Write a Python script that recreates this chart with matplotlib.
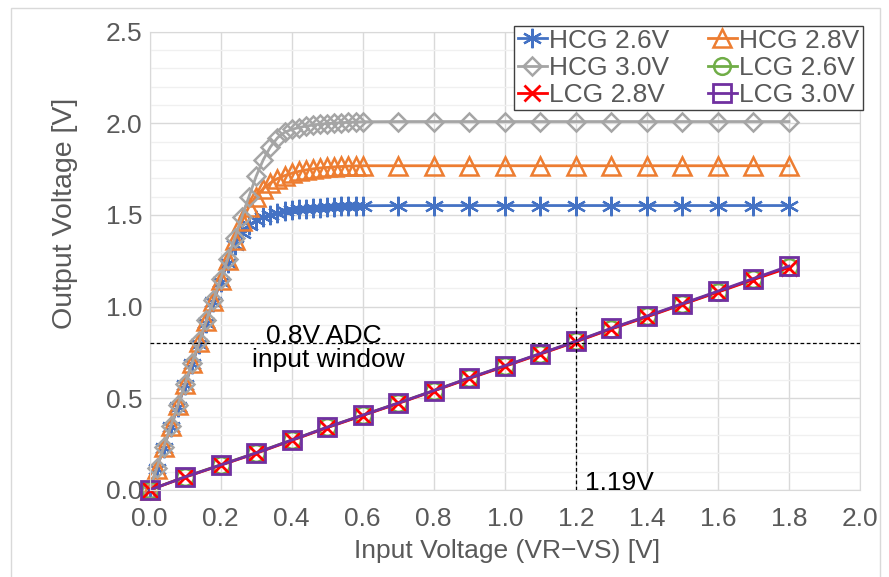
import matplotlib

matplotlib.use("Agg")
import matplotlib.pyplot as plt
from matplotlib.patches import Rectangle
from matplotlib.ticker import FormatStrFormatter, MultipleLocator

# input voltage sweep for the high conversion gain curves
hcg_x = [0.00, 0.02, 0.04, 0.06, 0.08, 0.10, 0.12, 0.14, 0.16, 0.18,
         0.20, 0.22, 0.24, 0.26, 0.28, 0.30, 0.32, 0.34, 0.36, 0.38,
         0.40, 0.42, 0.44, 0.46, 0.48, 0.50, 0.52, 0.54, 0.56, 0.58,
         0.60, 0.7, 0.8, 0.9, 1.0, 1.1, 1.2, 1.3, 1.4, 1.5, 1.6, 1.7, 1.8]

hcg_26 = [0.000, 0.115, 0.230, 0.342, 0.455, 0.570, 0.685, 0.798, 0.912, 1.025,
          1.135, 1.240, 1.335, 1.400, 1.443, 1.470, 1.489, 1.502, 1.512, 1.519,
          1.525, 1.530, 1.534, 1.537, 1.540, 1.543, 1.545, 1.547, 1.548, 1.549,
          1.550, 1.551, 1.551, 1.551, 1.551, 1.551, 1.551, 1.551, 1.551, 1.551,
          1.551, 1.551, 1.551]

hcg_28 = [0.000, 0.117, 0.233, 0.347, 0.462, 0.577, 0.692, 0.805, 0.920, 1.032,
          1.145, 1.255, 1.365, 1.465, 1.545, 1.600, 1.643, 1.674, 1.698, 1.714,
          1.727, 1.737, 1.745, 1.751, 1.756, 1.759, 1.762, 1.764, 1.766, 1.767,
          1.768, 1.768, 1.768, 1.768, 1.768, 1.768, 1.768, 1.768, 1.768, 1.768,
          1.768, 1.768, 1.768]

hcg_30 = [0.000, 0.118, 0.235, 0.350, 0.465, 0.580, 0.695, 0.810, 0.925, 1.037,
          1.150, 1.262, 1.375, 1.490, 1.600, 1.710, 1.800, 1.870, 1.920, 1.950,
          1.966, 1.976, 1.984, 1.990, 1.995, 1.998, 2.001, 2.003, 2.005, 2.007,
          2.008, 2.009, 2.009, 2.009, 2.009, 2.009, 2.009, 2.009, 2.009, 2.009,
          2.009, 2.009, 2.009]

# input voltage sweep for the low conversion gain curves
lcg_x = [0.0, 0.1, 0.2, 0.3, 0.4, 0.5, 0.6, 0.7, 0.8, 0.9,
         1.0, 1.1, 1.2, 1.3, 1.4, 1.5, 1.6, 1.7, 1.8]

lcg_26 = [0.000, 0.072, 0.137, 0.203, 0.272, 0.342, 0.408, 0.474, 0.542, 0.610,
          0.676, 0.743, 0.810, 0.880, 0.946, 1.014, 1.081, 1.150, 1.216]
lcg_28 = [0.000, 0.070, 0.135, 0.200, 0.270, 0.340, 0.406, 0.472, 0.540, 0.608,
          0.674, 0.741, 0.808, 0.878, 0.944, 1.012, 1.079, 1.147, 1.213]
lcg_30 = [0.000, 0.071, 0.136, 0.202, 0.272, 0.342, 0.408, 0.474, 0.542, 0.611,
          0.677, 0.744, 0.811, 0.882, 0.948, 1.016, 1.084, 1.153, 1.221]

adc_window = 0.8
cross_x = 1.2
cross_top = 1.0

GRAY_TEXT = "#595959"


def do_plot():
    plt.rcParams["font.family"] = ["Liberation Sans", "DejaVu Sans"]
    fig = plt.figure(figsize=(8.89, 5.77), dpi=100)
    ax = fig.add_axes([0.1682, 0.1508, 0.7992, 0.7946])

    style = dict(lw=2, clip_on=False)
    h26, = ax.plot(hcg_x, hcg_26, "-", color="#4472C4", marker=(6, 2, 0),
                   ms=14, mew=1.6, label="HCG 2.6V", **style)
    h28, = ax.plot(hcg_x, hcg_28, "-", color="#ED7D31", marker="^",
                   ms=13, mfc="none", mew=1.8, label="HCG 2.8V", **style)
    h30, = ax.plot(hcg_x, hcg_30, "-", color="#A5A5A5", marker="D",
                   ms=9.5, mfc="none", mew=1.8, label="HCG 3.0V", **style)
    l26, = ax.plot(lcg_x, lcg_26, "-", color="#70AD47", marker="o",
                   ms=12, mfc="none", mew=1.8, label="LCG 2.6V", **style)
    l28, = ax.plot(lcg_x, lcg_28, "-", color="#FF0000", marker="x",
                   ms=12, mew=2, label="LCG 2.8V", **style)
    l30, = ax.plot(lcg_x, lcg_30, "-", color="#7030A0", marker="s",
                   ms=13, mfc="none", mew=2, label="LCG 3.0V", **style)

    # ADC window guides
    ax.axhline(adc_window, color="black", ls=(0, (3, 2)), lw=0.9, zorder=4)
    ax.plot([cross_x, cross_x], [0, cross_top], color="black",
            ls=(0, (3, 2)), lw=0.9, zorder=4)
    ax.text(0.491, 0.801, "0.8V ADC", ha="center", va="baseline", fontsize=19)
    ax.text(0.502, 0.671, "input window", ha="center", va="baseline", fontsize=19)
    ax.text(1.226, 0.0, "1.19V", ha="left", va="baseline", fontsize=19)

    ax.set_xlim(0, 2.0)
    ax.set_ylim(0, 2.5)
    ax.xaxis.set_major_locator(MultipleLocator(0.2))
    ax.yaxis.set_major_locator(MultipleLocator(0.5))
    ax.yaxis.set_minor_locator(MultipleLocator(0.1))
    ax.xaxis.set_major_formatter(FormatStrFormatter("%.1f"))
    ax.yaxis.set_major_formatter(FormatStrFormatter("%.1f"))
    ax.grid(which="major", color="#D9D9D9", lw=1)
    ax.grid(which="minor", axis="y", color="#F0F0F0", lw=1)
    ax.set_axisbelow(True)
    ax.tick_params(which="both", length=0, labelsize=19, labelcolor=GRAY_TEXT)
    ax.tick_params(axis="x", pad=12)
    ax.tick_params(axis="y", pad=5)
    for s in ax.spines.values():
        s.set_color("#D9D9D9")

    ax.set_xlabel("Input Voltage (VR\u2212VS) [V]", fontsize=19, color=GRAY_TEXT)
    ax.set_ylabel("Output Voltage [V]", fontsize=20.5, color=GRAY_TEXT)
    ax.xaxis.label.set_va("center")
    ax.yaxis.label.set_va("center")
    ax.xaxis.set_label_coords(0.503, -0.133)
    ax.yaxis.set_label_coords(-0.119, 0.603)

    handles = [h26, h30, l28, h28, l26, l30]
    leg = ax.legend(handles=handles, labels=[h.get_label() for h in handles],
                    ncol=2, loc="upper right", bbox_to_anchor=(1.004, 1.013),
                    borderaxespad=0, fontsize=19, handlelength=1.1,
                    handletextpad=0.1, columnspacing=1.45, labelspacing=0.12,
                    borderpad=0.12, fancybox=False, framealpha=1)
    leg.get_frame().set_edgecolor("#404040")
    leg.get_frame().set_linewidth(1)
    for t in leg.get_texts():
        t.set_color(GRAY_TEXT)

    fig.patches.append(Rectangle((11 / 889, -0.01), 869 / 889, 1.0 - 8 / 577 + 0.01,
                                 transform=fig.transFigure, fill=False,
                                 edgecolor="#D9D9D9", lw=1))

    fig.savefig("out.png", dpi=100)


if __name__ == "__main__":
    do_plot()
